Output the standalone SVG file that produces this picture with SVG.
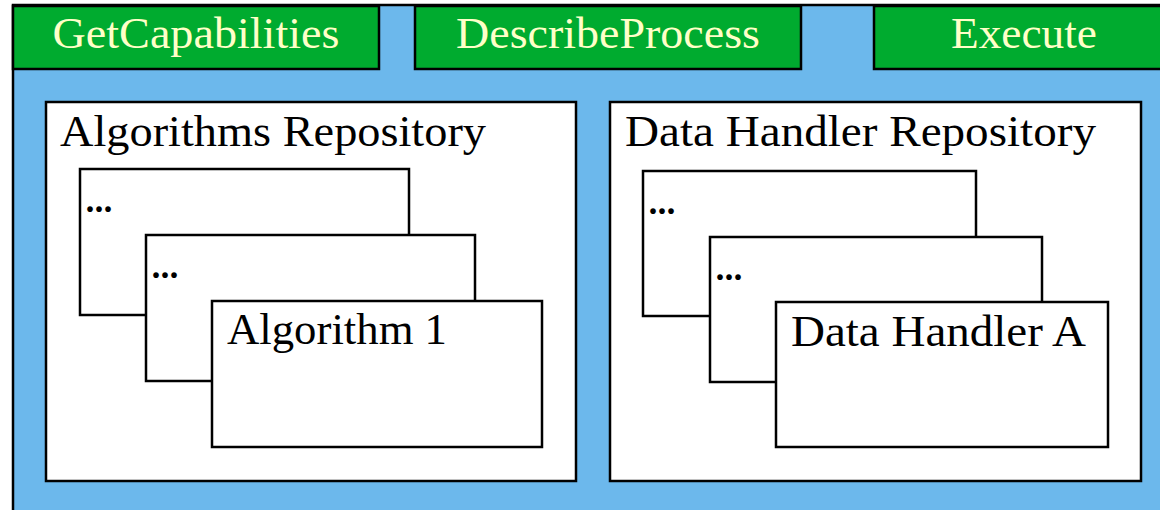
<svg xmlns="http://www.w3.org/2000/svg" width="1160" height="510" viewBox="0 0 1160 510">
  <style>
    .bg { fill: #6cb8ec; stroke: #000; stroke-width: 2.5; }
    .tab { fill: #00ab2f; stroke: #000; stroke-width: 2.5; }
    .tabtxt { font-family: "Liberation Serif", serif; font-size: 44px; fill: #ffffc8; text-anchor: middle; }
    .box { fill: #fff; stroke: #000; stroke-width: 2.5; }
    .lbl { font-family: "Liberation Serif", serif; font-size: 45px; fill: #000; }
    .dots { font-family: "Liberation Serif", serif; font-size: 48px; fill: #000; }
  </style>
  <rect class="bg" x="13" y="5" width="1170" height="520"/>
  <g id="tab-getcapabilities">
    <rect class="tab" x="13" y="6" width="366" height="63"/>
    <text class="tabtxt" x="196" y="48" textLength="287" lengthAdjust="spacingAndGlyphs">GetCapabilities</text>
  </g>
  <g id="tab-describeprocess">
    <rect class="tab" x="415" y="6" width="386" height="63"/>
    <text class="tabtxt" x="608" y="48" textLength="304" lengthAdjust="spacingAndGlyphs">DescribeProcess</text>
  </g>
  <g id="tab-execute">
    <rect class="tab" x="874" y="6" width="302" height="63"/>
    <text class="tabtxt" x="1024" y="48" textLength="146" lengthAdjust="spacingAndGlyphs">Execute</text>
  </g>
  <g id="algorithms-repository">
    <rect class="box" x="46" y="102" width="530" height="379"/>
    <text class="lbl" x="60" y="146" textLength="426" lengthAdjust="spacingAndGlyphs">Algorithms Repository</text>
  </g>
  <g id="algorithm-dots-1">
    <rect class="box" x="80" y="169" width="329" height="146"/>
    <text class="dots" x="84" y="212" textLength="30" lengthAdjust="spacing">...</text>
  </g>
  <g id="algorithm-dots-2">
    <rect class="box" x="146" y="235" width="329" height="146"/>
    <text class="dots" x="150" y="278" textLength="30" lengthAdjust="spacing">...</text>
  </g>
  <g id="algorithm-1">
    <rect class="box" x="212" y="301" width="330" height="146"/>
    <text class="lbl" x="227" y="344" textLength="220" lengthAdjust="spacingAndGlyphs">Algorithm 1</text>
  </g>
  <g id="data-handler-repository">
    <rect class="box" x="610" y="102" width="531" height="379"/>
    <text class="lbl" x="625" y="146" textLength="471" lengthAdjust="spacingAndGlyphs">Data Handler Repository</text>
  </g>
  <g id="data-handler-dots-1">
    <rect class="box" x="643" y="171" width="333" height="145"/>
    <text class="dots" x="647" y="214" textLength="30" lengthAdjust="spacing">...</text>
  </g>
  <g id="data-handler-dots-2">
    <rect class="box" x="710" y="237" width="332" height="145"/>
    <text class="dots" x="714" y="280" textLength="30" lengthAdjust="spacing">...</text>
  </g>
  <g id="data-handler-a">
    <rect class="box" x="776" y="302" width="332" height="145"/>
    <text class="lbl" x="791" y="346" textLength="295" lengthAdjust="spacingAndGlyphs">Data Handler A</text>
  </g>
  <g id="connectors"></g>
</svg>
